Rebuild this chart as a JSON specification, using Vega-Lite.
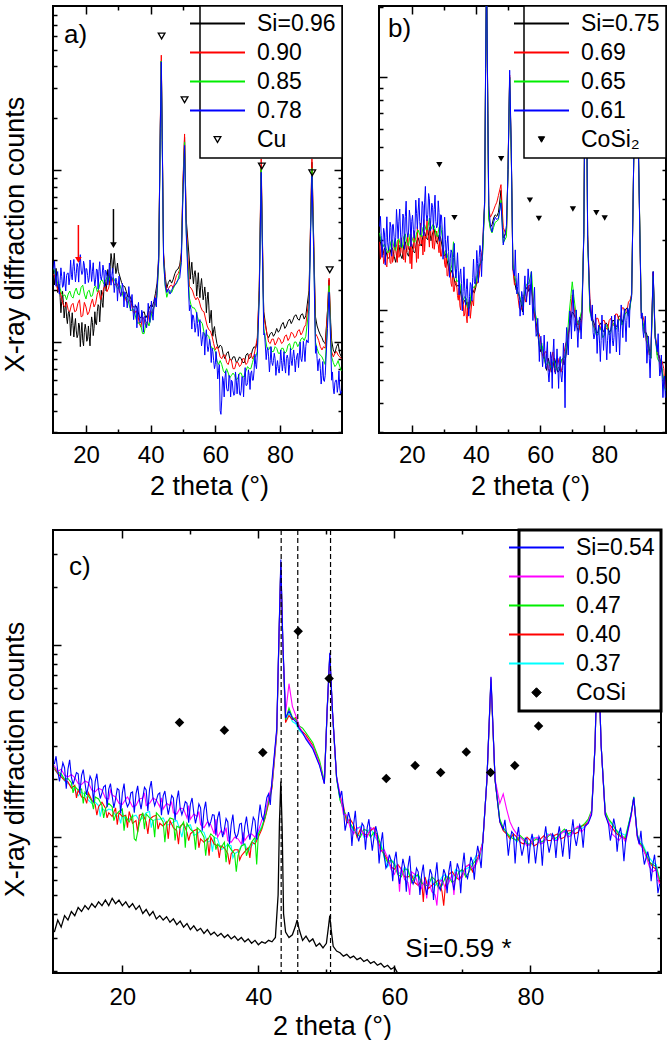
{
  "$schema": "https://vega.github.io/schema/vega-lite/v6.json",
  "padding": {"left": 0, "top": 4, "right": 4, "bottom": 0},
  "config": {
    "font": "Liberation Sans",
    "view": {"stroke": "black", "strokeWidth": 2},
    "axis": {
      "domain": false, "grid": false, "ticks": true, "tickColor": "black", "tickWidth": 1.5,
      "labelFont": "Liberation Sans", "labelFontSize": 24, "labelColor": "black",
      "labelFlush": false, "labelOverlap": false,
      "titleFont": "Liberation Sans", "titleFontSize": 27, "titleFontWeight": "normal", "titleColor": "black"
    },
    "legend": {
      "orient": "top-right", "offset": 0, "title": null,
      "labelFont": "Liberation Sans", "labelFontSize": 23, "labelColor": "black", "labelOffset": 28, "labelLimit": 0,
      "symbolType": "stroke", "symbolSize": 3025, "symbolStrokeWidth": 2,
      "padding": 6, "rowPadding": 5,
      "strokeColor": "black", "fillColor": "white"
    }
  },
  "datasets": {
    "panelA": [
      {"t":10,"s96":262,"s90":248,"s85":270,"s78":265},
      {"t":11,"s96":228,"s90":210,"s85":225,"s78":240},
      {"t":12,"s96":182,"s90":196,"s85":205,"s78":228},
      {"t":13,"s96":170,"s90":164,"s85":186,"s78":212},
      {"t":14,"s96":140,"s90":170,"s85":176,"s78":244},
      {"t":15,"s96":138,"s90":150,"s85":198,"s78":236},
      {"t":16,"s96":125,"s90":168,"s85":180,"s78":275},
      {"t":17,"s96":116,"s90":152,"s85":206,"s78":250},
      {"t":18,"s96":124,"s90":176,"s85":188,"s78":290},
      {"t":19,"s96":102,"s90":142,"s85":214,"s78":255},
      {"t":20,"s96":118,"s90":160,"s85":178,"s78":268},
      {"t":21,"s96":108,"s90":150,"s85":200,"s78":236},
      {"t":22,"s96":130,"s90":178,"s85":186,"s78":258},
      {"t":23,"s96":128,"s90":168,"s85":212,"s78":232},
      {"t":24,"s96":162,"s90":200,"s85":204,"s78":256},
      {"t":25,"s96":170,"s90":188,"s85":230,"s78":245},
      {"t":26,"s96":220,"s90":212,"s85":226,"s78":262},
      {"t":27,"s96":240,"s90":206,"s85":240,"s78":234},
      {"t":28,"s96":300,"s90":238,"s85":232,"s78":244},
      {"t":29,"s96":280,"s90":214,"s85":226,"s78":218},
      {"t":30,"s96":258,"s90":210,"s85":204,"s78":214},
      {"t":31,"s96":222,"s90":188,"s85":200,"s78":192},
      {"t":32,"s96":210,"s90":186,"s85":180,"s78":196},
      {"t":33,"s96":182,"s90":170,"s85":176,"s78":174},
      {"t":34,"s96":176,"s90":168,"s85":152,"s78":172},
      {"t":35,"s96":160,"s90":146,"s85":150,"s78":150},
      {"t":36,"s96":154,"s90":146,"s85":128,"s78":156},
      {"t":37,"s96":138,"s90":122,"s85":124,"s78":132},
      {"t":38,"s96":150,"s90":136,"s85":112,"s78":140},
      {"t":39,"s96":144,"s90":128,"s85":132,"s78":134},
      {"t":40,"s96":164,"s90":152,"s85":136,"s78":150},
      {"t":41,"s96":172,"s90":158,"s85":160,"s78":158},
      {"t":42,"s96":220,"s90":200,"s85":186,"s78":204},
      {"t":42.5,"s96":320,"s90":300,"s85":290,"s78":300},
      {"t":43,"s96":1800,"s90":1900,"s85":1700,"s78":1750},
      {"t":43.3,"s96":4300,"s90":4650,"s85":4300,"s78":4250},
      {"t":43.6,"s96":1500,"s90":1600,"s85":1450,"s78":1480},
      {"t":44,"s96":330,"s90":320,"s85":300,"s78":300},
      {"t":45,"s96":206,"s90":196,"s85":182,"s78":194},
      {"t":46,"s96":230,"s90":212,"s85":200,"s78":190},
      {"t":47,"s96":232,"s90":206,"s85":204,"s78":210},
      {"t":48,"s96":262,"s90":244,"s85":218,"s78":222},
      {"t":49,"s96":280,"s90":264,"s85":256,"s78":236},
      {"t":49.5,"s96":330,"s90":320,"s85":300,"s78":290},
      {"t":50,"s96":800,"s90":850,"s85":760,"s78":720},
      {"t":50.5,"s96":1550,"s90":1620,"s85":1450,"s78":1390},
      {"t":51,"s96":520,"s90":500,"s85":450,"s78":430},
      {"t":52,"s96":296,"s90":210,"s85":180,"s78":152},
      {"t":53,"s96":244,"s90":198,"s85":158,"s78":144},
      {"t":54,"s96":236,"s90":176,"s85":152,"s78":122},
      {"t":55,"s96":208,"s90":174,"s85":130,"s78":124},
      {"t":56,"s96":204,"s90":152,"s85":128,"s78":104},
      {"t":57,"s96":184,"s90":136,"s85":106,"s78":108},
      {"t":58,"s96":164,"s90":118,"s85":108,"s78":94},
      {"t":59,"s96":122,"s90":108,"s85":92,"s78":92},
      {"t":60,"s96":112,"s90":90,"s85":88,"s78":74},
      {"t":61,"s96":92,"s90":90,"s85":74,"s78":68},
      {"t":62,"s96":94,"s90":80,"s85":74,"s78":46},
      {"t":63,"s96":80,"s90":84,"s85":66,"s78":62},
      {"t":64,"s96":88,"s90":74,"s85":66,"s78":52},
      {"t":65,"s96":78,"s90":78,"s85":64,"s78":60},
      {"t":66,"s96":82,"s90":70,"s85":64,"s78":50},
      {"t":67,"s96":78,"s90":76,"s85":62,"s78":58},
      {"t":68,"s96":80,"s90":74,"s85":66,"s78":52},
      {"t":69,"s96":76,"s90":80,"s85":64,"s78":62},
      {"t":70,"s96":86,"s90":76,"s85":72,"s78":58},
      {"t":71,"s96":82,"s90":86,"s85":70,"s78":66},
      {"t":72,"s96":94,"s90":84,"s85":82,"s78":68},
      {"t":73,"s96":102,"s90":106,"s85":88,"s78":84},
      {"t":73.6,"s96":200,"s90":210,"s85":190,"s78":180},
      {"t":74.2,"s96":1060,"s90":1160,"s85":1020,"s78":970},
      {"t":74.8,"s96":220,"s90":230,"s85":200,"s78":190},
      {"t":75,"s96":150,"s90":140,"s85":120,"s78":110},
      {"t":76,"s96":110,"s90":112,"s85":92,"s78":90},
      {"t":77,"s96":112,"s90":98,"s85":94,"s78":78},
      {"t":78,"s96":108,"s90":104,"s85":88,"s78":78},
      {"t":79,"s96":120,"s90":100,"s85":92,"s78":72},
      {"t":80,"s96":118,"s90":104,"s85":86,"s78":74},
      {"t":81,"s96":130,"s90":100,"s85":92,"s78":76},
      {"t":82,"s96":124,"s90":110,"s85":88,"s78":80},
      {"t":83,"s96":136,"s90":106,"s85":98,"s78":74},
      {"t":84,"s96":134,"s90":112,"s85":92,"s78":82},
      {"t":85,"s96":144,"s90":108,"s85":100,"s78":78},
      {"t":86,"s96":134,"s90":118,"s85":98,"s78":84},
      {"t":87,"s96":146,"s90":114,"s85":106,"s78":84},
      {"t":88,"s96":142,"s90":126,"s85":108,"s78":94},
      {"t":89,"s96":200,"s90":180,"s85":160,"s78":150},
      {"t":89.5,"s96":500,"s90":520,"s85":460,"s78":440},
      {"t":89.9,"s96":1110,"s90":1160,"s85":1020,"s78":930},
      {"t":90.4,"s96":420,"s90":430,"s85":380,"s78":360},
      {"t":91,"s96":140,"s90":112,"s85":100,"s78":86},
      {"t":92,"s96":116,"s90":102,"s85":86,"s78":78},
      {"t":93,"s96":106,"s90":90,"s85":82,"s78":64},
      {"t":94,"s96":98,"s90":92,"s85":74,"s78":64},
      {"t":94.7,"s96":150,"s90":150,"s85":130,"s78":120},
      {"t":95.2,"s96":230,"s90":235,"s85":213,"s78":195},
      {"t":95.7,"s96":130,"s90":120,"s85":110,"s78":100},
      {"t":96,"s96":102,"s90":88,"s85":82,"s78":60},
      {"t":97,"s96":86,"s90":86,"s85":72,"s78":58},
      {"t":98,"s96":98,"s90":84,"s85":78,"s78":56},
      {"t":99,"s96":82,"s90":80,"s85":68,"s78":52},
      {"t":10.5,"s96":236,"s90":238,"s85":248,"s78":252},
      {"t":11.5,"s96":206,"s90":196,"s85":218,"s78":220},
      {"t":12.5,"s96":172,"s90":178,"s85":190,"s78":240},
      {"t":13.5,"s96":156,"s90":160,"s85":188,"s78":220},
      {"t":14.5,"s96":146,"s90":154,"s85":190,"s78":252},
      {"t":15.5,"s96":128,"s90":164,"s85":184,"s78":246},
      {"t":16.5,"s96":124,"s90":150,"s85":196,"s78":258},
      {"t":17.5,"s96":110,"s90":168,"s85":190,"s78":272},
      {"t":18.5,"s96":112,"s90":140,"s85":208,"s78":262},
      {"t":19.5,"s96":114,"s90":170,"s85":190,"s78":280},
      {"t":20.5,"s96":104,"s90":144,"s85":196,"s78":244},
      {"t":21.5,"s96":122,"s90":166,"s85":184,"s78":262},
      {"t":22.5,"s96":120,"s90":160,"s85":206,"s78":236},
      {"t":23.5,"s96":150,"s90":190,"s85":196,"s78":262},
      {"t":24.5,"s96":160,"s90":176,"s85":226,"s78":240},
      {"t":25.5,"s96":196,"s90":206,"s85":218,"s78":260},
      {"t":26.5,"s96":226,"s90":196,"s85":238,"s78":240},
      {"t":27.5,"s96":276,"s90":228,"s85":226,"s78":250},
      {"t":28.5,"s96":284,"s90":220,"s85":236,"s78":226},
      {"t":29.5,"s96":262,"s90":220,"s85":208,"s78":224},
      {"t":30.5,"s96":240,"s90":192,"s85":214,"s78":196},
      {"t":31.5,"s96":212,"s90":196,"s85":184,"s78":204},
      {"t":32.5,"s96":196,"s90":172,"s85":182,"s78":180},
      {"t":33.5,"s96":186,"s90":176,"s85":160,"s78":184},
      {"t":34.5,"s96":160,"s90":152,"s85":156,"s78":158},
      {"t":35.5,"s96":162,"s90":152,"s85":136,"s78":160},
      {"t":36.5,"s96":140,"s90":128,"s85":130,"s78":138},
      {"t":37.5,"s96":148,"s90":140,"s85":112,"s78":146},
      {"t":38.5,"s96":138,"s90":122,"s85":128,"s78":130},
      {"t":39.5,"s96":156,"s90":148,"s85":124,"s78":148},
      {"t":40.5,"s96":160,"s90":146,"s85":152,"s78":146},
      {"t":41.5,"s96":192,"s90":176,"s85":164,"s78":180},
      {"t":44.5,"s96":240,"s90":230,"s85":210,"s78":215},
      {"t":45.5,"s96":222,"s90":204,"s85":196,"s78":204},
      {"t":46.5,"s96":220,"s90":214,"s85":194,"s78":200},
      {"t":47.5,"s96":250,"s90":226,"s85":214,"s78":214},
      {"t":48.5,"s96":266,"s90":250,"s85":232,"s78":230},
      {"t":52.5,"s96":262,"s90":206,"s85":164,"s78":154},
      {"t":53.5,"s96":248,"s90":184,"s85":158,"s78":130},
      {"t":54.5,"s96":216,"s90":182,"s85":140,"s78":128},
      {"t":55.5,"s96":214,"s90":160,"s85":132,"s78":110},
      {"t":56.5,"s96":190,"s90":150,"s85":114,"s78":112},
      {"t":57.5,"s96":176,"s90":124,"s85":110,"s78":96},
      {"t":58.5,"s96":140,"s90":116,"s85":96,"s78":96},
      {"t":59.5,"s96":118,"s90":98,"s85":92,"s78":78},
      {"t":60.5,"s96":98,"s90":94,"s85":78,"s78":76},
      {"t":61.5,"s96":96,"s90":82,"s85":78,"s78":40},
      {"t":62.5,"s96":84,"s90":84,"s85":68,"s78":60},
      {"t":63.5,"s96":86,"s90":76,"s85":70,"s78":54},
      {"t":64.5,"s96":80,"s90":80,"s85":62,"s78":62},
      {"t":65.5,"s96":82,"s90":70,"s85":66,"s78":52},
      {"t":66.5,"s96":76,"s90":76,"s85":60,"s78":60},
      {"t":67.5,"s96":82,"s90":72,"s85":66,"s78":50},
      {"t":68.5,"s96":76,"s90":80,"s85":62,"s78":62},
      {"t":69.5,"s96":84,"s90":74,"s85":68,"s78":56},
      {"t":70.5,"s96":80,"s90":84,"s85":70,"s78":64},
      {"t":71.5,"s96":90,"s90":80,"s85":76,"s78":60},
      {"t":72.5,"s96":92,"s90":94,"s85":82,"s78":74},
      {"t":76.5,"s96":106,"s90":100,"s85":90,"s78":82},
      {"t":77.5,"s96":114,"s90":104,"s85":88,"s78":76},
      {"t":78.5,"s96":112,"s90":96,"s85":94,"s78":80},
      {"t":79.5,"s96":114,"s90":106,"s85":86,"s78":70},
      {"t":80.5,"s96":126,"s90":98,"s85":92,"s78":78},
      {"t":81.5,"s96":120,"s90":108,"s85":86,"s78":72},
      {"t":82.5,"s96":132,"s90":102,"s85":96,"s78":80},
      {"t":83.5,"s96":128,"s90":114,"s85":90,"s78":78},
      {"t":84.5,"s96":142,"s90":106,"s85":100,"s78":80},
      {"t":85.5,"s96":136,"s90":116,"s85":94,"s78":86},
      {"t":86.5,"s96":144,"s90":110,"s85":104,"s78":80},
      {"t":87.5,"s96":136,"s90":122,"s85":102,"s78":90},
      {"t":91.5,"s96":124,"s90":108,"s85":92,"s78":80},
      {"t":92.5,"s96":110,"s90":94,"s85":84,"s78":70},
      {"t":93.5,"s96":100,"s90":94,"s85":78,"s78":60},
      {"t":96.5,"s96":90,"s90":82,"s85":76,"s78":54},
      {"t":97.5,"s96":94,"s90":88,"s85":74,"s78":60},
      {"t":98.5,"s96":86,"s90":82,"s85":72,"s78":54},
      {"t":10.25,"s78":296},{"t":10.75,"s78":211},{"t":11.25,"s78":257},{"t":11.75,"s78":190},
      {"t":12.25,"s78":270},{"t":12.75,"s78":208},{"t":13.25,"s78":256},{"t":13.75,"s78":198},
      {"t":14.25,"s78":251},{"t":14.75,"s78":215},{"t":15.25,"s78":299},{"t":15.75,"s78":230},
      {"t":16.25,"s78":302},{"t":16.75,"s78":224},{"t":17.25,"s78":286},{"t":17.75,"s78":223},
      {"t":18.25,"s78":322},{"t":18.75,"s78":247},{"t":19.25,"s78":295},{"t":19.75,"s78":218},
      {"t":20.25,"s78":266},{"t":20.75,"s78":222},{"t":21.25,"s78":300},{"t":21.75,"s78":225},
      {"t":22.25,"s78":289},{"t":22.75,"s78":212},{"t":23.25,"s78":266},{"t":23.75,"s78":203},
      {"t":24.25,"s78":293},{"t":24.75,"s78":229},{"t":25.25,"s78":280},{"t":25.75,"s78":210},
      {"t":26.25,"s78":258},{"t":26.75,"s78":215},{"t":27.25,"s78":288},{"t":27.75,"s78":214},
      {"t":28.25,"s78":269},{"t":28.75,"s78":194},{"t":29.25,"s78":235},{"t":29.75,"s78":173},
      {"t":30.25,"s78":242},{"t":30.75,"s78":184},{"t":31.25,"s78":219},{"t":31.75,"s78":160},
      {"t":32.25,"s78":193},{"t":32.75,"s78":158},{"t":33.25,"s78":210},{"t":33.75,"s78":152},
      {"t":34.25,"s78":189},{"t":34.75,"s78":135},{"t":35.25,"s78":165},{"t":35.75,"s78":121},
      {"t":36.25,"s78":170},{"t":36.75,"s78":129},{"t":37.25,"s78":153},{"t":37.75,"s78":114},
      {"t":38.25,"s78":141},{"t":38.75,"s78":121},{"t":39.25,"s78":168},{"t":39.75,"s78":130},
      {"t":40.25,"s78":173},{"t":40.75,"s78":134},{"t":41.25,"s78":181},{"t":41.75,"s78":160},
      {"t":52.25,"s78":164},{"t":52.75,"s78":119},{"t":53.25,"s78":142},{"t":53.75,"s78":114},
      {"t":54.25,"s78":149},{"t":54.75,"s78":108},{"t":55.25,"s78":135},{"t":55.75,"s78":95},
      {"t":56.25,"s78":114},{"t":56.75,"s78":84},{"t":57.25,"s78":118},{"t":57.75,"s78":88},
      {"t":58.25,"s78":104},{"t":58.75,"s78":76},{"t":59.25,"s78":88},{"t":59.75,"s78":70},
      {"t":60.25,"s78":88},{"t":60.75,"s78":61},{"t":61.25,"s78":74},{"t":61.75,"s78":38},
      {"t":62.25,"s78":63},{"t":62.75,"s78":48},{"t":63.25,"s78":68},{"t":63.75,"s78":52},
      {"t":64.25,"s78":64},{"t":64.75,"s78":48},{"t":65.25,"s78":59},{"t":65.75,"s78":49},
      {"t":66.25,"s78":67},{"t":66.75,"s78":50},{"t":67.25,"s78":65},{"t":67.75,"s78":49},
      {"t":68.25,"s78":63},{"t":68.75,"s78":48},{"t":69.25,"s78":71},{"t":69.75,"s78":56},
      {"t":70.25,"s78":69},{"t":70.75,"s78":53},{"t":71.25,"s78":68},{"t":71.75,"s78":60},
      {"t":72.25,"s78":85},{"t":72.75,"s78":70},
      {"t":75.25,"s78":112},{"t":75.75,"s78":79},{"t":76.25,"s78":93},{"t":76.75,"s78":67},
      {"t":77.25,"s78":94},{"t":77.75,"s78":73},{"t":78.25,"s78":86},{"t":78.75,"s78":64},
      {"t":79.25,"s78":78},{"t":79.75,"s78":66},{"t":80.25,"s78":90},{"t":80.75,"s78":68},
      {"t":81.25,"s78":88},{"t":81.75,"s78":66},{"t":82.25,"s78":84},{"t":82.75,"s78":64},
      {"t":83.25,"s78":92},{"t":83.75,"s78":73},{"t":84.25,"s78":90},{"t":84.75,"s78":67},
      {"t":85.25,"s78":83},{"t":85.75,"s78":71},{"t":86.25,"s78":100},{"t":86.75,"s78":77},
      {"t":87.25,"s78":101},{"t":87.75,"s78":77},{"t":88.25,"s78":103},{"t":88.75,"s78":99},
      {"t":91.25,"s78":95},{"t":91.75,"s78":68},{"t":92.25,"s78":80},{"t":92.75,"s78":57},
      {"t":93.25,"s78":77},{"t":93.75,"s78":59},{"t":96.25,"s78":67},{"t":96.75,"s78":50},
      {"t":97.25,"s78":60},{"t":97.75,"s78":51},{"t":98.25,"s78":68},{"t":98.75,"s78":50},
      {"t":10.25,"s96":215},{"t":10.75,"s96":268},{"t":11.25,"s96":194},{"t":11.75,"s96":216},
      {"t":12.25,"s96":148},{"t":12.75,"s96":197},{"t":13.25,"s96":138},{"t":13.75,"s96":171},
      {"t":14.25,"s96":128},{"t":14.75,"s96":151},{"t":15.25,"s96":109},{"t":15.75,"s96":148},
      {"t":16.25,"s96":107},{"t":16.75,"s96":137},{"t":17.25,"s96":106},{"t":17.75,"s96":129},
      {"t":18.25,"s96":94},{"t":18.75,"s96":130},{"t":19.25,"s96":95},{"t":19.75,"s96":127},
      {"t":20.25,"s96":101},{"t":20.75,"s96":124},{"t":21.25,"s96":95},{"t":21.75,"s96":140},
      {"t":22.25,"s96":109},{"t":22.75,"s96":150},{"t":23.25,"s96":126},{"t":23.75,"s96":165},
      {"t":24.25,"s96":131},{"t":24.75,"s96":200},{"t":25.25,"s96":159},{"t":25.75,"s96":228},
      {"t":26.25,"s96":198},{"t":26.75,"s96":264},{"t":27.25,"s96":215},{"t":27.75,"s96":327},
      {"t":28.25,"s96":251},{"t":28.75,"s96":328},{"t":29.25,"s96":250},{"t":29.75,"s96":288},
      {"t":52.25,"s96":232},{"t":52.75,"s96":291},{"t":53.25,"s96":218},{"t":53.75,"s96":260},
      {"t":54.25,"s96":185},{"t":54.75,"s96":253},{"t":55.25,"s96":181},{"t":55.75,"s96":234},
      {"t":56.25,"s96":176},{"t":56.75,"s96":209},{"t":57.25,"s96":148},{"t":57.75,"s96":195},
      {"t":58.25,"s96":129},{"t":58.75,"s96":153},{"t":59.25,"s96":108},{"t":59.75,"s96":123}
    ],
    "panelB": [
      {"t":10,"s75":205,"s69":196,"s65":214,"s61":228},
      {"t":11,"s75":172,"s69":180,"s65":186,"s61":192},
      {"t":12,"s75":178,"s69":156,"s65":184,"s61":204},
      {"t":13,"s75":168,"s69":176,"s65":178,"s61":196},
      {"t":14,"s75":184,"s69":160,"s65":200,"s61":232},
      {"t":15,"s75":160,"s69":180,"s65":180,"s61":204},
      {"t":16,"s75":190,"s69":168,"s65":202,"s61":240},
      {"t":17,"s75":166,"s69":176,"s65":184,"s61":210},
      {"t":18,"s75":196,"s69":160,"s65":212,"s61":252},
      {"t":19,"s75":170,"s69":182,"s65":188,"s61":214},
      {"t":20,"s75":192,"s69":150,"s65":206,"s61":240},
      {"t":21,"s75":176,"s69":184,"s65":196,"s61":222},
      {"t":22,"s75":204,"s69":166,"s65":220,"s61":266},
      {"t":23,"s75":188,"s69":192,"s65":206,"s61":236},
      {"t":24,"s75":216,"s69":178,"s65":232,"s61":288},
      {"t":25,"s75":200,"s69":210,"s65":224,"s61":256},
      {"t":25.5,"s75":226,"s69":186,"s65":248,"s61":300},
      {"t":26,"s75":198,"s69":208,"s65":222,"s61":250},
      {"t":27,"s75":222,"s69":182,"s65":230,"s61":270},
      {"t":28,"s75":192,"s69":196,"s65":206,"s61":230},
      {"t":29,"s75":204,"s69":170,"s65":230,"s61":256},
      {"t":30,"s75":170,"s69":178,"s65":172,"s61":190},
      {"t":31,"s75":164,"s69":140,"s65":174,"s61":192},
      {"t":32,"s75":142,"s69":146,"s65":146,"s61":166},
      {"t":33,"s75":140,"s69":120,"s65":196,"s61":168},
      {"t":34,"s75":126,"s69":128,"s65":132,"s61":150},
      {"t":35,"s75":124,"s69":104,"s65":130,"s61":142},
      {"t":36,"s75":106,"s69":110,"s65":110,"s61":120},
      {"t":37,"s75":108,"s69":94,"s65":112,"s61":122},
      {"t":38,"s75":102,"s69":110,"s65":104,"s61":114},
      {"t":39,"s75":122,"s69":108,"s65":126,"s61":138},
      {"t":40,"s75":126,"s69":134,"s65":130,"s61":140},
      {"t":41,"s75":154,"s69":140,"s65":156,"s61":168},
      {"t":42,"s75":166,"s69":182,"s65":164,"s61":178},
      {"t":42.7,"s75":280,"s69":290,"s65":285,"s61":292},
      {"t":43,"s75":1000,"s69":1050,"s65":1080,"s61":1090},
      {"t":43.3,"s75":3000,"s69":3000,"s65":3000,"s61":3000},
      {"t":43.7,"s75":700,"s69":720,"s65":690,"s61":700},
      {"t":44,"s75":250,"s69":270,"s65":245,"s61":280},
      {"t":45,"s75":232,"s69":258,"s65":214,"s61":216},
      {"t":46,"s75":256,"s69":280,"s65":238,"s61":250},
      {"t":47,"s75":262,"s69":310,"s65":244,"s61":248},
      {"t":47.8,"s75":326,"s69":345,"s65":296,"s61":288},
      {"t":48.5,"s75":204,"s69":226,"s65":194,"s61":190},
      {"t":49.5,"s75":216,"s69":208,"s65":206,"s61":230},
      {"t":50,"s75":400,"s69":420,"s65":410,"s61":400},
      {"t":50.5,"s75":1000,"s69":1020,"s65":990,"s61":1070},
      {"t":51,"s75":480,"s69":490,"s65":470,"s61":500},
      {"t":51.5,"s75":156,"s69":150,"s65":158,"s61":150},
      {"t":52.5,"s75":122,"s69":130,"s65":130,"s61":138},
      {"t":53.5,"s75":114,"s69":102,"s65":116,"s61":110},
      {"t":54.5,"s75":98,"s69":104,"s65":104,"s61":114},
      {"t":55.5,"s75":122,"s69":108,"s65":126,"s61":116},
      {"t":56.5,"s75":120,"s69":128,"s65":130,"s61":134},
      {"t":57.3,"s75":130,"s69":124,"s65":146,"s61":128},
      {"t":58,"s75":98,"s69":102,"s65":104,"s61":106},
      {"t":59,"s75":84,"s69":80,"s65":90,"s61":79},
      {"t":60,"s75":66,"s69":76,"s65":68,"s61":76},
      {"t":61,"s75":66,"s69":62,"s65":64,"s61":63},
      {"t":62,"s75":55,"s69":66,"s65":58,"s61":65},
      {"t":63,"s75":58,"s69":54,"s65":58,"s61":56},
      {"t":64,"s75":57,"s69":66,"s65":60,"s61":65},
      {"t":65,"s75":58,"s69":56,"s65":55,"s61":57},
      {"t":66,"s75":55,"s69":58,"s65":57,"s61":61},
      {"t":67,"s75":62,"s69":58,"s65":62,"s61":55},
      {"t":68,"s75":63,"s69":72,"s65":66,"s61":69},
      {"t":69,"s75":82,"s69":82,"s65":96,"s61":80},
      {"t":70,"s75":98,"s69":116,"s65":132,"s61":106},
      {"t":71,"s75":92,"s69":92,"s65":100,"s61":86},
      {"t":72,"s75":80,"s69":90,"s65":86,"s61":84},
      {"t":73,"s75":98,"s69":92,"s65":100,"s61":90},
      {"t":73.6,"s75":210,"s69":220,"s65":215,"s61":210},
      {"t":74.2,"s75":2600,"s69":2600,"s65":2600,"s61":2600},
      {"t":74.8,"s75":210,"s69":210,"s65":200,"s61":200},
      {"t":75.5,"s75":100,"s69":112,"s65":98,"s61":106},
      {"t":76.5,"s75":90,"s69":86,"s65":86,"s61":80},
      {"t":77.5,"s75":80,"s69":92,"s65":78,"s61":82},
      {"t":78.5,"s75":86,"s69":86,"s65":84,"s61":72},
      {"t":79.5,"s75":82,"s69":90,"s65":76,"s61":80},
      {"t":80.5,"s75":88,"s69":84,"s65":86,"s61":72},
      {"t":81.5,"s75":80,"s69":90,"s65":78,"s61":80},
      {"t":82.5,"s75":90,"s69":86,"s65":86,"s61":74},
      {"t":83.5,"s75":84,"s69":96,"s65":82,"s61":82},
      {"t":84.5,"s75":94,"s69":90,"s65":90,"s61":80},
      {"t":85.5,"s75":88,"s69":102,"s65":86,"s61":88},
      {"t":86.5,"s75":100,"s69":96,"s65":96,"s61":88},
      {"t":87.5,"s75":96,"s69":108,"s65":94,"s61":100},
      {"t":88.5,"s75":118,"s69":116,"s65":116,"s61":114},
      {"t":89.3,"s75":600,"s69":600,"s65":600,"s61":600},
      {"t":89.9,"s75":2500,"s69":2500,"s65":2500,"s61":2500},
      {"t":90.5,"s75":600,"s69":600,"s65":600,"s61":600},
      {"t":91.5,"s75":100,"s69":94,"s65":98,"s61":92},
      {"t":92.5,"s75":80,"s69":88,"s65":80,"s61":86},
      {"t":93.5,"s75":76,"s69":70,"s65":72,"s61":68},
      {"t":94.5,"s75":62,"s69":68,"s65":62,"s61":66},
      {"t":95.2,"s75":146,"s69":144,"s65":140,"s61":146},
      {"t":95.8,"s75":80,"s69":76,"s65":78,"s61":76},
      {"t":96.5,"s75":64,"s69":70,"s65":62,"s61":66},
      {"t":97.5,"s75":60,"s69":56,"s65":60,"s61":54},
      {"t":98.5,"s75":50,"s69":56,"s65":48,"s61":50},
      {"t":99,"s75":47,"s69":46,"s65":45,"s61":42},
      {"t":10.5,"s75":186,"s69":186,"s65":196,"s61":208},
      {"t":11.5,"s75":184,"s69":162,"s65":192,"s61":214},
      {"t":12.5,"s75":166,"s69":174,"s65":176,"s61":194},
      {"t":13.5,"s75":182,"s69":158,"s65":196,"s61":226},
      {"t":14.5,"s75":170,"s69":178,"s65":184,"s61":206},
      {"t":15.5,"s75":180,"s69":160,"s65":198,"s61":236},
      {"t":16.5,"s75":172,"s69":182,"s65":188,"s61":214},
      {"t":17.5,"s75":188,"s69":164,"s65":206,"s61":248},
      {"t":18.5,"s75":176,"s69":178,"s65":194,"s61":218},
      {"t":19.5,"s75":188,"s69":158,"s65":212,"s61":250},
      {"t":20.5,"s75":178,"s69":182,"s65":196,"s61":222},
      {"t":21.5,"s75":196,"s69":160,"s65":214,"s61":260},
      {"t":22.5,"s75":192,"s69":188,"s65":210,"s61":240},
      {"t":23.5,"s75":208,"s69":172,"s65":226,"s61":280},
      {"t":24.5,"s75":204,"s69":204,"s65":220,"s61":258},
      {"t":26.5,"s75":214,"s69":184,"s65":232,"s61":276},
      {"t":27.5,"s75":200,"s69":202,"s65":214,"s61":240},
      {"t":28.5,"s75":210,"s69":176,"s65":226,"s61":262},
      {"t":29.5,"s75":186,"s69":184,"s65":206,"s61":222},
      {"t":30.5,"s75":174,"s69":152,"s65":180,"s61":200},
      {"t":31.5,"s75":150,"s69":156,"s65":160,"s61":178},
      {"t":32.5,"s75":148,"s69":126,"s65":156,"s61":176},
      {"t":33.5,"s75":130,"s69":132,"s65":150,"s61":156},
      {"t":34.5,"s75":128,"s69":110,"s65":134,"s61":148},
      {"t":35.5,"s75":112,"s69":116,"s65":118,"s61":130},
      {"t":36.5,"s75":110,"s69":96,"s65":114,"s61":124},
      {"t":37.5,"s75":100,"s69":108,"s65":102,"s61":112},
      {"t":38.5,"s75":112,"s69":100,"s65":118,"s61":128},
      {"t":39.5,"s75":118,"s69":126,"s65":124,"s61":132},
      {"t":40.5,"s75":142,"s69":130,"s65":144,"s61":158},
      {"t":41.5,"s75":158,"s69":164,"s65":160,"s61":176},
      {"t":44.5,"s75":226,"s69":250,"s65":222,"s61":230},
      {"t":45.5,"s75":248,"s69":268,"s65":226,"s61":238},
      {"t":46.5,"s75":252,"s69":290,"s65":240,"s61":244},
      {"t":52,"s75":134,"s69":128,"s65":142,"s61":140},
      {"t":53,"s75":120,"s69":116,"s65":118,"s61":126},
      {"t":54,"s75":108,"s69":100,"s65":110,"s61":104},
      {"t":55,"s75":112,"s69":116,"s65":116,"s61":122},
      {"t":56,"s75":126,"s69":118,"s65":130,"s61":124},
      {"t":58.5,"s75":92,"s69":90,"s65":96,"s61":90},
      {"t":59.5,"s75":74,"s69":80,"s65":76,"s61":76},
      {"t":60.5,"s75":70,"s69":66,"s65":72,"s61":66},
      {"t":61.5,"s75":60,"s69":66,"s65":60,"s61":64},
      {"t":62.5,"s75":62,"s69":56,"s65":60,"s61":54},
      {"t":63.5,"s75":54,"s69":62,"s65":56,"s61":62},
      {"t":64.5,"s75":62,"s69":54,"s65":60,"s61":56},
      {"t":65.5,"s75":54,"s69":62,"s65":56,"s61":58},
      {"t":66.5,"s75":60,"s69":54,"s65":60,"s61":52},
      {"t":67.5,"s75":58,"s69":66,"s65":62,"s61":62},
      {"t":68.5,"s75":72,"s69":74,"s65":78,"s61":72},
      {"t":69.5,"s75":90,"s69":96,"s65":112,"s61":92},
      {"t":70.5,"s75":96,"s69":104,"s65":114,"s61":94},
      {"t":71.5,"s75":84,"s69":86,"s65":90,"s61":82},
      {"t":72.5,"s75":90,"s69":82,"s65":94,"s61":88},
      {"t":76,"s75":94,"s69":96,"s65":92,"s61":90},
      {"t":77,"s75":86,"s69":84,"s65":82,"s61":78},
      {"t":78,"s75":80,"s69":92,"s65":78,"s61":80},
      {"t":79,"s75":88,"s69":82,"s65":82,"s61":74},
      {"t":80,"s75":80,"s69":90,"s65":78,"s61":80},
      {"t":81,"s75":86,"s69":82,"s65":84,"s61":74},
      {"t":82,"s75":82,"s69":92,"s65":80,"s61":80},
      {"t":83,"s75":90,"s69":86,"s65":88,"s61":76},
      {"t":84,"s75":86,"s69":96,"s65":84,"s61":84},
      {"t":85,"s75":94,"s69":92,"s65":92,"s61":82},
      {"t":86,"s75":92,"s69":102,"s65":90,"s61":92},
      {"t":87,"s75":102,"s69":98,"s65":98,"s61":90},
      {"t":88,"s75":104,"s69":110,"s65":102,"s61":106},
      {"t":92,"s75":88,"s69":94,"s65":88,"s61":82},
      {"t":93,"s75":80,"s69":74,"s65":78,"s61":76},
      {"t":94,"s75":68,"s69":64,"s65":66,"s61":62},
      {"t":97,"s75":64,"s69":62,"s65":60,"s61":62},
      {"t":98,"s75":54,"s69":60,"s65":56,"s61":52},
      {"t":10.25,"s61":252},{"t":10.75,"s61":168},{"t":11.25,"s61":224},{"t":11.75,"s61":156},
      {"t":12.25,"s61":251},{"t":12.75,"s61":180},{"t":13.25,"s61":238},{"t":13.75,"s61":170},
      {"t":14.25,"s61":233},{"t":14.75,"s61":186},{"t":15.25,"s61":270},{"t":15.75,"s61":202},
      {"t":16.25,"s61":271},{"t":16.75,"s61":186},{"t":17.25,"s61":258},{"t":17.75,"s61":182},
      {"t":18.25,"s61":293},{"t":18.75,"s61":205},{"t":19.25,"s61":268},{"t":19.75,"s61":187},
      {"t":20.25,"s61":255},{"t":20.75,"s61":203},{"t":21.25,"s61":296},{"t":21.75,"s61":223},
      {"t":22.25,"s61":302},{"t":22.75,"s61":210},{"t":23.25,"s61":292},{"t":23.75,"s61":208},
      {"t":24.25,"s61":339},{"t":24.75,"s61":241},{"t":25.25,"s61":316},{"t":25.75,"s61":218},
      {"t":26.25,"s61":287},{"t":26.75,"s61":221},{"t":27.25,"s61":311},{"t":27.75,"s61":225},
      {"t":28.25,"s61":294},{"t":28.75,"s61":197},{"t":29.25,"s61":255},{"t":29.75,"s61":165},
      {"t":30.25,"s61":250},{"t":30.75,"s61":167},{"t":31.25,"s61":208},{"t":31.75,"s61":138},
      {"t":32.25,"s61":181},{"t":32.75,"s61":138},{"t":33.25,"s61":193},{"t":33.75,"s61":137},
      {"t":34.25,"s61":176},{"t":34.75,"s61":116},{"t":35.25,"s61":150},{"t":35.75,"s61":99},
      {"t":36.25,"s61":153},{"t":36.75,"s61":105},{"t":37.25,"s61":136},{"t":37.75,"s61":94},
      {"t":38.25,"s61":131},{"t":38.75,"s61":109},{"t":39.25,"s61":165},{"t":39.75,"s61":129},
      {"t":40.25,"s61":180},{"t":40.75,"s61":131},{"t":41.25,"s61":189},{"t":41.75,"s61":139},
      {"t":52.25,"s61":181},{"t":52.75,"s61":117},{"t":53.25,"s61":144},{"t":53.75,"s61":94},
      {"t":54.25,"s61":120},{"t":54.75,"s61":95},{"t":55.25,"s61":140},{"t":55.75,"s61":108},
      {"t":56.25,"s61":150},{"t":56.75,"s61":105},{"t":57.25,"s61":146},{"t":57.75,"s61":90},
      {"t":58.25,"s61":125},{"t":58.75,"s61":77},{"t":59.25,"s61":92},{"t":59.75,"s61":60},
      {"t":60.25,"s61":77},{"t":60.75,"s61":57},{"t":61.25,"s61":78},{"t":61.75,"s61":56},
      {"t":62.25,"s61":73},{"t":62.75,"s61":49},{"t":63.25,"s61":66},{"t":63.75,"s61":46},
      {"t":64.25,"s61":75},{"t":64.75,"s61":53},{"t":65.25,"s61":68},{"t":65.75,"s61":46},
      {"t":66.25,"s61":63},{"t":66.75,"s61":49},{"t":67.25,"s61":72},{"t":67.75,"s61":38},
      {"t":68.25,"s61":84},{"t":68.75,"s61":64},{"t":69.25,"s61":99},{"t":69.75,"s61":75},
      {"t":70.25,"s61":122},{"t":70.75,"s61":81},{"t":71.25,"s61":100},{"t":71.75,"s61":69},
      {"t":72.25,"s61":93},{"t":72.75,"s61":75},
      {"t":76.25,"s61":105},{"t":76.75,"s61":75},{"t":77.25,"s61":96},{"t":77.75,"s61":65},
      {"t":78.25,"s61":86},{"t":78.75,"s61":60},{"t":79.25,"s61":95},{"t":79.75,"s61":67},
      {"t":80.25,"s61":87},{"t":80.75,"s61":61},{"t":81.25,"s61":83},{"t":81.75,"s61":65},
      {"t":82.25,"s61":94},{"t":82.75,"s61":70},{"t":83.25,"s61":95},{"t":83.75,"s61":66},
      {"t":84.25,"s61":91},{"t":84.75,"s61":64},{"t":85.25,"s61":105},{"t":85.75,"s61":76},
      {"t":86.25,"s61":101},{"t":86.75,"s61":73},{"t":87.25,"s61":102},{"t":87.75,"s61":84},
      {"t":91.75,"s61":97},{"t":92.25,"s61":76},{"t":92.75,"s61":94},{"t":93.25,"s61":59},
      {"t":93.75,"s61":77},{"t":94.25,"s61":51},{"t":96.75,"s61":79},{"t":97.25,"s61":52},
      {"t":97.75,"s61":64},{"t":98.25,"s61":42},{"t":98.75,"s61":52},
      {"t":10.25,"s69":165},{"t":10.75,"s69":190},{"t":11.25,"s69":158},{"t":11.75,"s69":180},
      {"t":12.25,"s69":153},{"t":12.75,"s69":182},{"t":13.25,"s69":160},{"t":13.75,"s69":192},
      {"t":14.25,"s69":165},{"t":14.75,"s69":196},{"t":15.25,"s69":170},{"t":15.75,"s69":200},
      {"t":16.25,"s69":172},{"t":16.75,"s69":204},{"t":17.25,"s69":176},{"t":17.75,"s69":210},
      {"t":18.25,"s69":180},{"t":18.75,"s69":212},{"t":19.25,"s69":180},{"t":19.75,"s69":212},
      {"t":20.25,"s69":180},{"t":20.75,"s69":218},{"t":21.25,"s69":186},{"t":21.75,"s69":228},
      {"t":22.25,"s69":191},{"t":22.75,"s69":236},{"t":23.25,"s69":200},{"t":23.75,"s69":244},
      {"t":24.25,"s69":207},{"t":24.75,"s69":244},{"t":25.25,"s69":206},{"t":25.75,"s69":240},
      {"t":26.25,"s69":205},{"t":26.75,"s69":232},{"t":27.25,"s69":195},{"t":27.75,"s69":218},
      {"t":28.25,"s69":190},{"t":28.75,"s69":205},{"t":29.25,"s69":170},{"t":29.75,"s69":190},
      {"t":30.25,"s69":157},{"t":30.75,"s69":176},{"t":31.25,"s69":140},{"t":31.75,"s69":158},
      {"t":32.25,"s69":130},{"t":32.75,"s69":146},{"t":33.25,"s69":120},{"t":33.75,"s69":133},
      {"t":34.25,"s69":115},{"t":34.75,"s69":124},{"t":35.25,"s69":100},{"t":35.75,"s69":112},
      {"t":36.25,"s69":94},{"t":36.75,"s69":106},{"t":37.25,"s69":88},{"t":37.75,"s69":104},
      {"t":38.25,"s69":92},{"t":38.75,"s69":110},{"t":39.25,"s69":104},{"t":39.75,"s69":124}
    ],
    "panelC": [
      {"t":10,"c54":240,"c50":236,"c47":232,"c40":228,"c37":226},
      {"t":11,"c54":218,"c50":226,"c47":214,"c40":206,"c37":210},
      {"t":12,"c54":226,"c50":206,"c47":202,"c40":194,"c37":190},
      {"t":13,"c54":202,"c50":204,"c47":184,"c40":186,"c37":176},
      {"t":14,"c54":210,"c50":188,"c47":178,"c40":162,"c37":172},
      {"t":15,"c54":186,"c50":192,"c47":164,"c40":170,"c37":156},
      {"t":16,"c54":194,"c50":172,"c47":162,"c40":148,"c37":152},
      {"t":17,"c54":170,"c50":176,"c47":146,"c40":152,"c37":142},
      {"t":18,"c54":178,"c50":158,"c47":150,"c40":134,"c37":140},
      {"t":19,"c54":158,"c50":162,"c47":130,"c40":142,"c37":130},
      {"t":20,"c54":170,"c50":148,"c47":140,"c40":128,"c37":134},
      {"t":21,"c54":150,"c50":156,"c47":120,"c40":136,"c37":124},
      {"t":22,"c54":168,"c50":146,"c47":96,"c40":122,"c37":130},
      {"t":23,"c54":160,"c50":160,"c47":134,"c40":132,"c37":126},
      {"t":24,"c54":178,"c50":150,"c47":126,"c40":124,"c37":136},
      {"t":25,"c54":156,"c50":156,"c47":134,"c40":130,"c37":124},
      {"t":26,"c54":164,"c50":140,"c47":120,"c40":114,"c37":126},
      {"t":27,"c54":146,"c50":146,"c47":126,"c40":122,"c37":116},
      {"t":28,"c54":156,"c50":132,"c47":114,"c40":108,"c37":122},
      {"t":29,"c54":140,"c50":140,"c47":120,"c40":118,"c37":112},
      {"t":30,"c54":148,"c50":124,"c47":110,"c40":104,"c37":116},
      {"t":31,"c54":130,"c50":128,"c47":112,"c40":110,"c37":104},
      {"t":32,"c54":138,"c50":112,"c47":100,"c40":94,"c37":106},
      {"t":33,"c54":120,"c50":116,"c47":104,"c40":100,"c37":96},
      {"t":34,"c54":126,"c50":100,"c47":92,"c40":90,"c37":98},
      {"t":35,"c54":110,"c50":104,"c47":94,"c40":88,"c37":88},
      {"t":36,"c54":116,"c50":94,"c47":86,"c40":82,"c37":90},
      {"t":37,"c54":104,"c50":98,"c47":80,"c40":86,"c37":84},
      {"t":38,"c54":114,"c50":96,"c47":92,"c40":84,"c37":92},
      {"t":39,"c54":110,"c50":104,"c47":94,"c40":94,"c37":90},
      {"t":40,"c54":124,"c50":108,"c47":104,"c40":100,"c37":106},
      {"t":41,"c54":142,"c50":134,"c47":128,"c40":126,"c37":128},
      {"t":42,"c54":199,"c50":190,"c47":186,"c40":180,"c37":184},
      {"t":42.7,"c54":368,"c50":360,"c47":355,"c40":345,"c37":350},
      {"t":43,"c54":1040,"c50":1020,"c47":1010,"c40":980,"c37":1000},
      {"t":43.3,"c54":2790,"c50":2700,"c47":2650,"c40":2550,"c37":2600},
      {"t":43.6,"c54":1040,"c50":1020,"c47":1010,"c40":990,"c37":1000},
      {"t":44,"c54":417,"c50":440,"c47":410,"c40":395,"c37":400},
      {"t":44.5,"c54":454,"c50":630,"c47":470,"c40":430,"c37":440},
      {"t":45,"c54":417,"c50":480,"c47":420,"c40":410,"c37":400},
      {"t":45.5,"c54":400,"c50":430,"c47":410,"c40":420,"c37":390},
      {"t":46,"c54":368,"c50":380,"c47":380,"c40":370,"c37":360},
      {"t":46.5,"c54":350,"c50":350,"c47":370,"c40":355,"c37":345},
      {"t":47,"c54":324,"c50":330,"c47":350,"c40":340,"c37":330},
      {"t":48,"c54":288,"c50":296,"c47":310,"c40":300,"c37":290},
      {"t":49,"c54":235,"c50":240,"c47":250,"c40":242,"c37":238},
      {"t":49.7,"c54":190,"c50":190,"c47":196,"c40":192,"c37":190},
      {"t":50.1,"c54":454,"c50":450,"c47":450,"c40":445,"c37":440},
      {"t":50.5,"c54":914,"c50":900,"c47":890,"c40":870,"c37":880},
      {"t":50.9,"c54":454,"c50":450,"c47":445,"c40":440,"c37":440},
      {"t":51.5,"c54":206,"c50":205,"c47":204,"c40":202,"c37":200},
      {"t":52,"c54":160,"c50":170,"c47":156,"c40":162,"c37":158},
      {"t":52.5,"c54":142,"c50":132,"c47":140,"c40":146,"c37":138},
      {"t":53,"c54":120,"c50":130,"c47":126,"c40":118,"c37":124},
      {"t":54,"c54":116,"c50":104,"c47":110,"c40":116,"c37":108},
      {"t":55,"c54":104,"c50":112,"c47":100,"c40":110,"c37":114},
      {"t":56,"c54":112,"c50":100,"c47":108,"c40":102,"c37":106},
      {"t":57,"c54":100,"c50":110,"c47":106,"c40":112,"c37":102},
      {"t":58,"c54":92,"c50":84,"c47":90,"c40":86,"c37":94},
      {"t":59,"c54":72,"c50":78,"c47":74,"c40":76,"c37":70},
      {"t":60,"c54":76,"c50":64,"c47":72,"c40":68,"c37":74},
      {"t":61,"c54":66,"c50":70,"c47":62,"c40":68,"c37":64},
      {"t":62,"c54":70,"c50":58,"c47":68,"c40":62,"c37":66},
      {"t":63,"c54":60,"c50":64,"c47":62,"c40":58,"c37":64},
      {"t":64,"c54":64,"c50":54,"c47":58,"c40":60,"c37":58},
      {"t":65,"c54":58,"c50":60,"c47":56,"c40":54,"c37":60},
      {"t":66,"c54":62,"c50":50,"c47":60,"c40":58,"c37":56},
      {"t":67,"c54":58,"c50":60,"c47":56,"c40":52,"c37":62},
      {"t":68,"c54":66,"c50":58,"c47":62,"c40":64,"c37":60},
      {"t":69,"c54":62,"c50":66,"c47":60,"c40":62,"c37":68},
      {"t":70,"c54":70,"c50":62,"c47":68,"c40":64,"c37":66},
      {"t":71,"c54":68,"c50":72,"c47":66,"c40":72,"c37":70},
      {"t":72,"c54":78,"c50":72,"c47":76,"c40":74,"c37":80},
      {"t":73,"c54":95,"c50":94,"c47":94,"c40":94,"c37":96},
      {"t":73.6,"c54":199,"c50":198,"c47":198,"c40":198,"c37":200},
      {"t":74.2,"c54":685,"c50":680,"c47":670,"c40":650,"c37":660},
      {"t":74.8,"c54":199,"c50":200,"c47":198,"c40":198,"c37":200},
      {"t":75.5,"c54":120,"c50":150,"c47":124,"c40":120,"c37":122},
      {"t":76,"c54":110,"c50":168,"c47":112,"c40":108,"c37":110},
      {"t":76.5,"c54":102,"c50":140,"c47":106,"c40":104,"c37":104},
      {"t":77,"c54":96,"c50":120,"c47":100,"c40":98,"c37":102},
      {"t":78,"c54":100,"c50":104,"c47":96,"c40":100,"c37":94},
      {"t":79,"c54":88,"c50":96,"c47":98,"c40":92,"c37":98},
      {"t":80,"c54":94,"c50":92,"c47":92,"c40":96,"c37":90},
      {"t":81,"c54":88,"c50":100,"c47":98,"c40":92,"c37":98},
      {"t":82,"c54":98,"c50":94,"c47":96,"c40":102,"c37":94},
      {"t":83,"c54":92,"c50":104,"c47":104,"c40":96,"c37":102},
      {"t":84,"c54":100,"c50":96,"c47":100,"c40":104,"c37":98},
      {"t":85,"c54":96,"c50":108,"c47":110,"c40":100,"c37":106},
      {"t":86,"c54":104,"c50":102,"c47":106,"c40":108,"c37":104},
      {"t":87,"c54":102,"c50":114,"c47":112,"c40":106,"c37":112},
      {"t":88,"c54":114,"c50":112,"c47":118,"c40":116,"c37":114},
      {"t":89,"c54":131,"c50":136,"c47":138,"c40":134,"c37":136},
      {"t":89.5,"c54":300,"c50":300,"c47":300,"c40":300,"c37":300},
      {"t":89.9,"c54":1100,"c50":1100,"c47":1100,"c40":1100,"c37":1100},
      {"t":90.4,"c54":300,"c50":300,"c47":300,"c40":300,"c37":300},
      {"t":91,"c54":131,"c50":130,"c47":136,"c40":132,"c37":134},
      {"t":92,"c54":108,"c50":104,"c47":118,"c40":112,"c37":116},
      {"t":93,"c54":104,"c50":96,"c47":104,"c40":102,"c37":106},
      {"t":94,"c54":96,"c50":94,"c47":100,"c40":98,"c37":102},
      {"t":94.8,"c54":131,"c50":128,"c47":132,"c40":130,"c37":132},
      {"t":95.2,"c54":161,"c50":160,"c47":162,"c40":160,"c37":162},
      {"t":95.7,"c54":102,"c50":100,"c47":104,"c40":102,"c37":104},
      {"t":96.5,"c54":84,"c50":88,"c47":90,"c40":88,"c37":92},
      {"t":97.5,"c54":76,"c50":70,"c47":74,"c40":74,"c37":78},
      {"t":98.5,"c54":66,"c50":68,"c47":70,"c40":68,"c37":72},
      {"t":99,"c54":57,"c50":56,"c47":60,"c40":58,"c37":60},
      {"t":10.5,"c54":222,"c50":220,"c47":218,"c40":214,"c37":214},
      {"t":11.5,"c54":230,"c50":210,"c47":200,"c40":198,"c37":196},
      {"t":12.5,"c54":206,"c50":212,"c47":192,"c40":180,"c37":186},
      {"t":13.5,"c54":214,"c50":190,"c47":176,"c40":176,"c37":164},
      {"t":14.5,"c54":192,"c50":196,"c47":172,"c40":160,"c37":166},
      {"t":15.5,"c54":198,"c50":176,"c47":154,"c40":156,"c37":150},
      {"t":16.5,"c54":178,"c50":180,"c47":158,"c40":144,"c37":146},
      {"t":17.5,"c54":186,"c50":160,"c47":140,"c40":142,"c37":136},
      {"t":18.5,"c54":164,"c50":166,"c47":144,"c40":128,"c37":138},
      {"t":19.5,"c54":176,"c50":150,"c47":136,"c40":134,"c37":128},
      {"t":20.5,"c54":154,"c50":158,"c47":128,"c40":130,"c37":122},
      {"t":21.5,"c54":172,"c50":144,"c47":130,"c40":118,"c37":128},
      {"t":22.5,"c54":156,"c50":158,"c47":118,"c40":130,"c37":122},
      {"t":23.5,"c54":176,"c50":146,"c47":132,"c40":120,"c37":134},
      {"t":24.5,"c54":160,"c50":160,"c47":122,"c40":128,"c37":122},
      {"t":25.5,"c54":170,"c50":144,"c47":128,"c40":118,"c37":124},
      {"t":26.5,"c54":150,"c50":150,"c47":118,"c40":120,"c37":116},
      {"t":27.5,"c54":160,"c50":134,"c47":124,"c40":112,"c37":120},
      {"t":28.5,"c54":142,"c50":142,"c47":112,"c40":114,"c37":108},
      {"t":29.5,"c54":150,"c50":126,"c47":118,"c40":106,"c37":114},
      {"t":30.5,"c54":134,"c50":132,"c47":106,"c40":108,"c37":102},
      {"t":31.5,"c54":142,"c50":116,"c47":108,"c40":98,"c37":108},
      {"t":32.5,"c54":124,"c50":120,"c47":96,"c40":98,"c37":94},
      {"t":33.5,"c54":130,"c50":104,"c47":100,"c40":92,"c37":100},
      {"t":34.5,"c54":112,"c50":108,"c47":88,"c40":90,"c37":86},
      {"t":35.5,"c54":120,"c50":96,"c47":92,"c40":82,"c37":92},
      {"t":36.5,"c54":106,"c50":100,"c47":82,"c40":86,"c37":82},
      {"t":37.5,"c54":118,"c50":92,"c47":90,"c40":80,"c37":90},
      {"t":38.5,"c54":108,"c50":102,"c47":86,"c40":88,"c37":84},
      {"t":39.5,"c54":122,"c50":100,"c47":100,"c40":92,"c37":96},
      {"t":40.5,"c54":128,"c50":122,"c47":112,"c40":110,"c37":114},
      {"t":41.5,"c54":168,"c50":160,"c47":154,"c40":150,"c37":156},
      {"t":53.5,"c54":124,"c50":112,"c47":118,"c40":124,"c37":116},
      {"t":54.5,"c54":104,"c50":112,"c47":104,"c40":100,"c37":110},
      {"t":55.5,"c54":114,"c50":102,"c47":110,"c40":104,"c37":100},
      {"t":56.5,"c54":102,"c50":112,"c47":100,"c40":108,"c37":112},
      {"t":57.5,"c54":104,"c50":96,"c47":104,"c40":98,"c37":96},
      {"t":58.5,"c54":80,"c50":86,"c47":80,"c40":82,"c37":78},
      {"t":59.5,"c54":76,"c50":68,"c47":76,"c40":70,"c37":76},
      {"t":60.5,"c54":66,"c50":72,"c47":64,"c40":72,"c37":66},
      {"t":61.5,"c54":70,"c50":60,"c47":68,"c40":62,"c37":70},
      {"t":62.5,"c54":60,"c50":66,"c47":58,"c40":64,"c37":60},
      {"t":63.5,"c54":66,"c50":56,"c47":64,"c40":56,"c37":62},
      {"t":64.5,"c54":56,"c50":60,"c47":56,"c40":62,"c37":56},
      {"t":65.5,"c54":64,"c50":52,"c47":62,"c40":56,"c37":60},
      {"t":66.5,"c54":56,"c50":58,"c47":54,"c40":60,"c37":58},
      {"t":67.5,"c54":64,"c50":54,"c47":62,"c40":56,"c37":64},
      {"t":68.5,"c54":60,"c50":64,"c47":58,"c40":66,"c37":60},
      {"t":69.5,"c54":68,"c50":60,"c47":66,"c40":60,"c37":66},
      {"t":70.5,"c54":64,"c50":70,"c47":62,"c40":70,"c37":68},
      {"t":71.5,"c54":74,"c50":68,"c47":72,"c40":66,"c37":74},
      {"t":72.5,"c54":80,"c50":80,"c47":78,"c40":82,"c37":80},
      {"t":77.5,"c54":104,"c50":110,"c47":98,"c40":104,"c37":100},
      {"t":78.5,"c54":92,"c50":100,"c47":102,"c40":94,"c37":100},
      {"t":79.5,"c54":98,"c50":90,"c47":92,"c40":100,"c37":94},
      {"t":80.5,"c54":90,"c50":98,"c47":96,"c40":90,"c37":100},
      {"t":81.5,"c54":96,"c50":92,"c47":94,"c40":98,"c37":92},
      {"t":82.5,"c54":94,"c50":102,"c47":100,"c40":96,"c37":104},
      {"t":83.5,"c54":100,"c50":96,"c47":98,"c40":102,"c37":96},
      {"t":84.5,"c54":96,"c50":104,"c47":106,"c40":98,"c37":106},
      {"t":85.5,"c54":104,"c50":100,"c47":104,"c40":108,"c37":102},
      {"t":86.5,"c54":100,"c50":110,"c47":110,"c40":104,"c37":110},
      {"t":87.5,"c54":110,"c50":106,"c47":114,"c40":114,"c37":110},
      {"t":88.5,"c54":118,"c50":120,"c47":124,"c40":120,"c37":122},
      {"t":91.5,"c54":116,"c50":120,"c47":124,"c40":118,"c37":122},
      {"t":92.5,"c54":112,"c50":100,"c47":110,"c40":106,"c37":110},
      {"t":93.5,"c54":98,"c50":102,"c47":100,"c40":100,"c37":104},
      {"t":96,"c54":92,"c50":92,"c47":94,"c40":94,"c37":96},
      {"t":97,"c54":78,"c50":80,"c47":82,"c40":80,"c37":84},
      {"t":98,"c54":72,"c50":66,"c47":72,"c40":70,"c37":74},
      {"t":10.25,"c54":264},{"t":10.75,"c54":195},{"t":11.25,"c54":244},{"t":11.75,"c54":179},
      {"t":12.25,"c54":253},{"t":12.75,"c54":188},{"t":13.25,"c54":217},{"t":13.75,"c54":169},
      {"t":14.25,"c54":225},{"t":14.75,"c54":166},{"t":15.25,"c54":208},{"t":15.75,"c54":152},
      {"t":16.25,"c54":214},{"t":16.75,"c54":159},{"t":17.25,"c54":183},{"t":17.75,"c54":143},
      {"t":18.25,"c54":190},{"t":18.75,"c54":142},{"t":19.25,"c54":179},{"t":19.75,"c54":133},
      {"t":20.25,"c54":190},{"t":20.75,"c54":144},{"t":21.25,"c54":170},{"t":21.75,"c54":134},
      {"t":22.25,"c54":185},{"t":22.75,"c54":140},{"t":23.25,"c54":182},{"t":23.75,"c54":137},
      {"t":24.25,"c54":196},{"t":24.75,"c54":146},{"t":25.25,"c54":167},{"t":25.75,"c54":130},
      {"t":26.25,"c54":174},{"t":26.75,"c54":131},{"t":27.25,"c54":165},{"t":27.75,"c54":122},
      {"t":28.25,"c54":175},{"t":28.75,"c54":131},{"t":29.25,"c54":153},{"t":29.75,"c54":119},
      {"t":30.25,"c54":160},{"t":30.75,"c54":118},{"t":31.25,"c54":149},{"t":31.75,"c54":108},
      {"t":32.25,"c54":153},{"t":32.75,"c54":114},{"t":33.25,"c54":131},{"t":33.75,"c54":102},
      {"t":34.25,"c54":136},{"t":34.75,"c54":100},{"t":35.25,"c54":125},{"t":35.75,"c54":92},
      {"t":36.25,"c54":131},{"t":36.75,"c54":99},{"t":37.25,"c54":117},{"t":37.75,"c54":92},
      {"t":38.25,"c54":128},{"t":38.75,"c54":97},{"t":39.25,"c54":127},{"t":39.75,"c54":97},
      {"t":40.25,"c54":148},{"t":40.75,"c54":122},{"t":41.25,"c54":161},{"t":41.75,"c54":147},
      {"t":52.25,"c54":174},{"t":52.75,"c54":108},{"t":53.25,"c54":135},{"t":53.75,"c54":90},
      {"t":54.25,"c54":137},{"t":54.75,"c54":95},{"t":55.25,"c54":118},{"t":55.75,"c54":86},
      {"t":56.25,"c54":124},{"t":56.75,"c54":85},{"t":57.25,"c54":114},{"t":57.75,"c54":73},
      {"t":58.25,"c54":106},{"t":58.75,"c54":69},{"t":59.25,"c54":81},{"t":59.75,"c54":59},
      {"t":60.25,"c54":84},{"t":60.75,"c54":57},{"t":61.25,"c54":77},{"t":61.75,"c54":52},
      {"t":62.25,"c54":80},{"t":62.75,"c54":57},{"t":63.25,"c54":69},{"t":63.75,"c54":50},
      {"t":64.25,"c54":72},{"t":64.75,"c54":50},{"t":65.25,"c54":68},{"t":65.75,"c54":47},
      {"t":66.25,"c54":74},{"t":66.75,"c54":53},{"t":67.25,"c54":68},{"t":67.75,"c54":51},
      {"t":68.25,"c54":75},{"t":68.75,"c54":53},{"t":69.25,"c54":73},{"t":69.75,"c54":51},
      {"t":70.25,"c54":83},{"t":70.75,"c54":61},{"t":71.25,"c54":79},{"t":71.75,"c54":60},
      {"t":72.25,"c54":90},{"t":72.75,"c54":69},
      {"t":76.25,"c54":123},{"t":76.75,"c54":80},{"t":77.25,"c54":107},{"t":77.75,"c54":73},
      {"t":78.25,"c54":113},{"t":78.75,"c54":80},{"t":79.25,"c54":99},{"t":79.75,"c54":73},
      {"t":80.25,"c54":104},{"t":80.75,"c54":73},{"t":81.25,"c54":101},{"t":81.75,"c54":71},
      {"t":82.25,"c54":114},{"t":82.75,"c54":83},{"t":83.25,"c54":104},{"t":83.75,"c54":78},
      {"t":84.25,"c54":114},{"t":84.75,"c54":79},{"t":85.25,"c54":110},{"t":85.75,"c54":77},
      {"t":86.25,"c54":124},{"t":86.75,"c54":90},{"t":87.25,"c54":116},{"t":87.75,"c54":88},
      {"t":91.75,"c54":96},{"t":92.25,"c54":125},{"t":92.75,"c54":84},{"t":93.25,"c54":112},
      {"t":93.75,"c54":75},{"t":96.25,"c54":108},{"t":96.75,"c54":72},{"t":97.25,"c54":84},
      {"t":97.75,"c54":59},{"t":98.25,"c54":81},{"t":98.75,"c54":51},
      {"t":12.75,"c47":170},{"t":14.25,"c47":150},{"t":15.75,"c47":140},{"t":17.25,"c47":126},
      {"t":18.75,"c47":122},{"t":20.25,"c47":108},{"t":21.75,"c47":98},{"t":23.25,"c47":110},
      {"t":24.75,"c47":100},{"t":26.25,"c47":94},{"t":27.75,"c47":96},{"t":29.25,"c47":88},
      {"t":30.75,"c47":86},{"t":32.25,"c47":80},{"t":33.75,"c47":86},{"t":35.25,"c47":74},
      {"t":36.75,"c47":66},{"t":38.25,"c47":80},{"t":39.75,"c47":72},
      {"t":13.25,"c40":160},{"t":14.75,"c40":150},{"t":16.25,"c40":130},{"t":17.75,"c40":126},
      {"t":19.25,"c40":116},{"t":20.75,"c40":112},{"t":22.25,"c40":106},{"t":23.75,"c40":104},
      {"t":25.25,"c40":110},{"t":26.75,"c40":98},{"t":28.25,"c40":92},{"t":29.75,"c40":96},
      {"t":31.25,"c40":88},{"t":32.75,"c40":80},{"t":34.25,"c40":78},{"t":35.75,"c40":72},
      {"t":37.25,"c40":76},{"t":38.75,"c40":78},{"t":64.25,"c40":46},{"t":67.25,"c40":44},
      {"t":16.75,"c37":128},{"t":19.75,"c37":118},{"t":24.25,"c37":112},{"t":28.75,"c37":100},
      {"t":33.25,"c37":84},{"t":36.25,"c37":78},
      {"t":18.25,"c50":176},{"t":20.75,"c50":162},{"t":23.25,"c50":170},{"t":25.75,"c50":160},
      {"t":27.25,"c50":152},{"t":29.75,"c50":146},{"t":31.25,"c50":136},{"t":33.75,"c50":124},
      {"t":35.25,"c50":112},{"t":37.75,"c50":106},{"t":60.75,"c50":52},{"t":62.25,"c50":50},
      {"t":64.75,"c50":48},{"t":66.25,"c50":44},{"t":68.75,"c50":50}
    ],
    "si059": [
      {"t":10,"counts":32},{"t":10.5,"counts":37},{"t":11,"counts":34},{"t":11.5,"counts":39},
      {"t":12,"counts":37},{"t":12.5,"counts":41},{"t":13,"counts":39},{"t":13.5,"counts":43},
      {"t":14,"counts":41},{"t":14.5,"counts":44},{"t":15,"counts":42},{"t":15.5,"counts":45},
      {"t":16,"counts":43},{"t":16.5,"counts":46},{"t":17,"counts":44},{"t":17.5,"counts":47},
      {"t":18,"counts":44},{"t":18.5,"counts":48},{"t":19,"counts":45},{"t":19.5,"counts":47},
      {"t":20,"counts":44},{"t":20.5,"counts":46},{"t":21,"counts":43},{"t":21.5,"counts":45},
      {"t":22,"counts":42},{"t":22.5,"counts":44},{"t":23,"counts":40},{"t":23.5,"counts":42},
      {"t":24,"counts":39},{"t":24.5,"counts":41},{"t":25,"counts":37.5},{"t":25.5,"counts":39},
      {"t":26,"counts":37},{"t":26.5,"counts":38.5},{"t":27,"counts":36},{"t":27.5,"counts":37.5},
      {"t":28,"counts":35},{"t":28.5,"counts":36.5},{"t":29,"counts":34},{"t":29.5,"counts":35.5},
      {"t":30,"counts":33},{"t":30.5,"counts":34.5},{"t":31,"counts":32.5},{"t":31.5,"counts":33.5},
      {"t":32,"counts":31.5},{"t":32.5,"counts":33},{"t":33,"counts":31},{"t":33.5,"counts":32},
      {"t":34,"counts":30.5},{"t":34.5,"counts":31.5},{"t":35,"counts":30},{"t":35.5,"counts":31},
      {"t":36,"counts":29.5},{"t":36.5,"counts":30.5},{"t":37,"counts":29},{"t":37.5,"counts":30},
      {"t":38,"counts":28.5},{"t":38.5,"counts":29.5},{"t":39,"counts":28},{"t":39.5,"counts":29},
      {"t":40,"counts":27.5},{"t":40.5,"counts":28.5},{"t":41,"counts":28},{"t":41.5,"counts":29},
      {"t":42,"counts":28.5},{"t":42.5,"counts":30},{"t":42.9,"counts":50},{"t":43.1,"counts":120},
      {"t":43.3,"counts":195},{"t":43.5,"counts":110},{"t":43.7,"counts":40},{"t":44,"counts":32},
      {"t":44.5,"counts":30},{"t":45,"counts":31},{"t":45.4,"counts":34},{"t":45.7,"counts":37},
      {"t":46,"counts":33},{"t":46.5,"counts":29},{"t":47,"counts":30.5},{"t":47.5,"counts":28.5},
      {"t":48,"counts":29.5},{"t":48.5,"counts":27},{"t":49,"counts":28},{"t":49.5,"counts":26.5},
      {"t":50,"counts":28},{"t":50.3,"counts":34},{"t":50.5,"counts":39},{"t":50.7,"counts":33},
      {"t":51,"counts":27},{"t":51.5,"counts":25.5},{"t":52,"counts":25},{"t":52.5,"counts":24},
      {"t":53,"counts":24.5},{"t":53.5,"counts":23.5},{"t":54,"counts":24},{"t":54.5,"counts":23},
      {"t":55,"counts":23.5},{"t":55.5,"counts":22.5},{"t":56,"counts":23},{"t":56.5,"counts":22},
      {"t":57,"counts":22.5},{"t":57.5,"counts":21.5},{"t":58,"counts":22},{"t":58.5,"counts":21},
      {"t":59,"counts":21.5},{"t":59.5,"counts":20.5},{"t":60,"counts":21},{"t":60.5,"counts":19.5}
    ],
    "cu": [
      {"t":43.4,"counts":6013},{"t":50.5,"counts":2563},{"t":74.4,"counts":1055},
      {"t":90.0,"counts":964},{"t":95.4,"counts":263}
    ],
    "cosi2": [
      {"t":28.6,"counts":420},{"t":33.3,"counts":249},{"t":47.85,"counts":446},{"t":56.8,"counts":296},
      {"t":59.6,"counts":247},{"t":70.2,"counts":271},{"t":77.5,"counts":261},{"t":80.1,"counts":248}
    ],
    "cosi": [
      {"t":28.4,"counts":395},{"t":35.0,"counts":360},{"t":40.65,"counts":276},{"t":45.85,"counts":1183},
      {"t":50.4,"counts":670},{"t":58.8,"counts":202},{"t":63.05,"counts":236},{"t":66.8,"counts":217},
      {"t":70.57,"counts":278},{"t":74.14,"counts":217},{"t":77.7,"counts":236},{"t":81.2,"counts":379}
    ]
  },
  "vconcat": [
    {
      "hconcat": [
        {
          "width": 289, "height": 427,
          "layer": [
            {
              "data": {"name": "panelA"},
              "transform": [{"fold": ["s96", "s90", "s85", "s78"], "as": ["series", "counts"]}],
              "mark": {"type": "line", "strokeWidth": 1, "clip": true, "invalid": "filter"},
              "encoding": {
                "x": {"field": "t", "type": "quantitative", "scale": {"domain": [9.8, 99.2], "nice": false, "zero": false},
                  "axis": {"orient": "bottom", "values": [20, 30, 40, 50, 60, 70, 80, 90],
                    "labelExpr": "datum.value % 20 === 0 ? datum.label : ''",
                    "tickSize": {"condition": {"test": "datum.value % 20 === 0", "value": -8}, "value": -4},
                    "labelPadding": 18, "title": "2 theta (°)", "titleX": 156, "titleY": 61,
                    "titleBaseline": "alphabetic", "titleAlign": "center"}},
                "y": {"field": "counts", "type": "quantitative", "scale": {"type": "log", "domain": [29.6, 8980], "nice": false},
                  "axis": {"orient": "left", "labels": false,
                    "values": [30, 40, 50, 60, 70, 80, 90, 100, 200, 300, 400, 500, 600, 700, 800, 900, 1000, 2000, 3000, 4000, 5000, 6000, 7000, 8000],
                    "tickSize": {"condition": {"test": "datum.value === 100 || datum.value === 1000", "value": -8}, "value": -4},
                    "title": "X-ray diffraction counts", "titleX": -38, "titleY": 228, "titleBaseline": "middle", "titleAlign": "center", "titleAngle": -90}},
                "color": {"field": "series", "type": "nominal",
                  "scale": {"domain": ["s96", "s90", "s85", "s78", "cu"], "range": ["#000000", "#ff0000", "#00ee00", "#0000ff", "#000000"]},
                  "legend": {
                    "labelExpr": "datum.value === 's96' ? 'Si=0.96' : datum.value === 's90' ? '0.90' : datum.value === 's85' ? '0.85' : datum.value === 's78' ? '0.78' : 'Cu'",
                    "encode": {"symbols": {"update": {
                      "shape": {"signal": "datum.value === 'cu' ? 'triangle-down' : 'stroke'"},
                      "size": {"signal": "datum.value === 'cu' ? 45 : 3025"},
                      "fill": {"signal": "datum.value === 'cu' ? 'white' : 'transparent'"},
                      "strokeWidth": {"signal": "datum.value === 'cu' ? 1.3 : 2"}}},
                      "legend": {"update": {"strokeWidth": {"value": 1.5}}}}
                  }}
              }
            },
            {
              "data": {"name": "cu"},
              "mark": {"type": "point", "shape": "triangle-down", "filled": false, "stroke": "black", "strokeWidth": 1.3, "size": 45, "opacity": 1},
              "encoding": {
                "x": {"field": "t", "type": "quantitative", "scale": {"domain": [9.8, 99.2], "nice": false, "zero": false},
                  "axis": {"orient": "top", "labels": false, "title": null, "values": [20, 30, 40, 50, 60, 70, 80, 90],
                    "tickSize": {"condition": {"test": "datum.value % 20 === 0", "value": -8}, "value": -4}}},
                "y": {"field": "counts", "type": "quantitative", "scale": {"type": "log", "domain": [29.6, 8980], "nice": false},
                  "axis": {"orient": "right", "labels": false, "title": null,
                    "values": [30, 40, 50, 60, 70, 80, 90, 100, 200, 300, 400, 500, 600, 700, 800, 900, 1000, 2000, 3000, 4000, 5000, 6000, 7000, 8000],
                    "tickSize": {"condition": {"test": "datum.value === 100 || datum.value === 1000", "value": -8}, "value": -4}}}
              }
            },
            {
              "data": {"values": [
                {"t": 17.65, "top": 479, "tip": 300, "col": "#ff0000"},
                {"t": 28.5, "top": 593, "tip": 366, "col": "#000000"}
              ]},
              "layer": [
                {
                  "mark": {"type": "rule", "strokeWidth": 1.5},
                  "encoding": {
                    "x": {"field": "t", "type": "quantitative", "axis": null},
                    "y": {"field": "top", "type": "quantitative", "axis": null},
                    "y2": {"field": "tip"},
                    "color": {"field": "col", "type": "nominal", "scale": null}
                  }
                },
                {
                  "mark": {"type": "point", "shape": "triangle-down", "filled": true, "size": 45, "opacity": 1},
                  "encoding": {
                    "x": {"field": "t", "type": "quantitative", "axis": null},
                    "y": {"field": "tip", "type": "quantitative", "axis": null},
                    "color": {"field": "col", "type": "nominal", "scale": null}
                  }
                }
              ]
            },
            {
              "data": {"values": [{"t": 13.2, "counts": 6095, "label": "a)"}]},
              "mark": {"type": "text", "align": "left", "baseline": "middle", "fontSize": 26, "color": "black"},
              "encoding": {
                "x": {"field": "t", "type": "quantitative", "axis": null},
                "y": {"field": "counts", "type": "quantitative", "axis": null},
                "text": {"field": "label"}
              }
            }
          ],
          "resolve": {"axis": {"x": "independent", "y": "independent"}}
        },
        {
          "width": 287, "height": 427,
          "layer": [
            {
              "data": {"name": "panelB"},
              "transform": [{"fold": ["s75", "s69", "s65", "s61"], "as": ["series", "counts"]}],
              "mark": {"type": "line", "strokeWidth": 1, "clip": true, "invalid": "filter"},
              "encoding": {
                "x": {"field": "t", "type": "quantitative", "scale": {"domain": [9.8, 99.2], "nice": false, "zero": false},
                  "axis": {"orient": "bottom", "values": [20, 30, 40, 50, 60, 70, 80, 90],
                    "labelExpr": "datum.value % 20 === 0 ? datum.label : ''",
                    "tickSize": {"condition": {"test": "datum.value % 20 === 0", "value": -8}, "value": -4},
                    "labelPadding": 18, "title": "2 theta (°)", "titleX": 151, "titleY": 61,
                    "titleBaseline": "alphabetic", "titleAlign": "center"}},
                "y": {"field": "counts", "type": "quantitative", "scale": {"type": "log", "domain": [29.6, 2018], "nice": false},
                  "axis": {"orient": "left", "labels": false, "title": null,
                    "values": [30, 40, 50, 60, 70, 80, 90, 100, 200, 300, 400, 500, 600, 700, 800, 900, 1000, 2000],
                    "tickSize": {"condition": {"test": "datum.value === 100 || datum.value === 1000", "value": -8}, "value": -4}}},
                "color": {"field": "series", "type": "nominal",
                  "scale": {"domain": ["s75", "s69", "s65", "s61", "cosi2"], "range": ["#000000", "#ff0000", "#00ee00", "#0000ff", "#000000"]},
                  "legend": {
                    "labelExpr": "datum.value === 's75' ? 'Si=0.75' : datum.value === 's69' ? '0.69' : datum.value === 's65' ? '0.65' : datum.value === 's61' ? '0.61' : 'CoSi₂'",
                    "encode": {"symbols": {"update": {
                      "shape": {"signal": "datum.value === 'cosi2' ? 'triangle-down' : 'stroke'"},
                      "size": {"signal": "datum.value === 'cosi2' ? 40 : 3025"},
                      "fill": {"signal": "datum.value === 'cosi2' ? 'black' : 'transparent'"},
                      "strokeWidth": {"signal": "datum.value === 'cosi2' ? 1 : 2"}}},
                      "legend": {"update": {"strokeWidth": {"value": 1.5}}}}
                  }}
              }
            },
            {
              "data": {"name": "cosi2"},
              "mark": {"type": "point", "shape": "triangle-down", "filled": true, "color": "black", "size": 40, "opacity": 1},
              "encoding": {
                "x": {"field": "t", "type": "quantitative", "scale": {"domain": [9.8, 99.2], "nice": false, "zero": false},
                  "axis": {"orient": "top", "labels": false, "title": null, "values": [20, 30, 40, 50, 60, 70, 80, 90],
                    "tickSize": {"condition": {"test": "datum.value % 20 === 0", "value": -8}, "value": -4}}},
                "y": {"field": "counts", "type": "quantitative", "scale": {"type": "log", "domain": [29.6, 2018], "nice": false},
                  "axis": {"orient": "right", "labels": false, "title": null,
                    "values": [30, 40, 50, 60, 70, 80, 90, 100, 200, 300, 400, 500, 600, 700, 800, 900, 1000, 2000],
                    "tickSize": {"condition": {"test": "datum.value === 100 || datum.value === 1000", "value": -8}, "value": -4}}}
              }
            },
            {
              "data": {"values": [{"t": 12.6, "counts": 1607, "label": "b)"}]},
              "mark": {"type": "text", "align": "left", "baseline": "middle", "fontSize": 26, "color": "black"},
              "encoding": {
                "x": {"field": "t", "type": "quantitative", "axis": null},
                "y": {"field": "counts", "type": "quantitative", "axis": null},
                "text": {"field": "label"}
              }
            }
          ],
          "resolve": {"axis": {"x": "independent", "y": "independent"}}
        }
      ],
      "spacing": 33,
      "resolve": {"scale": {"color": "independent"}, "legend": {"color": "independent"}}
    },
    {
      "width": 608, "height": 443,
      "layer": [
        {
          "data": {"name": "panelC"},
          "transform": [{"fold": ["c37", "c40", "c47", "c50", "c54"], "as": ["series", "counts"]}],
          "mark": {"type": "line", "strokeWidth": 1.1, "clip": true, "invalid": "filter"},
          "encoding": {
            "x": {"field": "t", "type": "quantitative", "scale": {"domain": [9.8, 99.2], "nice": false, "zero": false},
              "axis": {"orient": "bottom", "values": [20, 30, 40, 50, 60, 70, 80, 90],
                "labelExpr": "datum.value % 20 === 0 ? datum.label : ''",
                "tickSize": {"condition": {"test": "datum.value % 20 === 0", "value": -8}, "value": -4},
                "labelPadding": 20, "title": "2 theta (°)", "titleX": 279, "titleY": 61,
                "titleBaseline": "alphabetic", "titleAlign": "center"}},
            "y": {"field": "counts", "type": "quantitative", "scale": {"type": "log", "domain": [19.6, 3981], "nice": false},
              "axis": {"orient": "left", "labels": false,
                "values": [20, 30, 40, 50, 60, 70, 80, 90, 100, 200, 300, 400, 500, 600, 700, 800, 900, 1000, 2000, 3000],
                "tickSize": {"condition": {"test": "datum.value === 100 || datum.value === 1000", "value": -8}, "value": -4},
                "title": "X-ray diffraction counts", "titleX": -38, "titleY": 229, "titleBaseline": "middle", "titleAlign": "center", "titleAngle": -90}},
            "color": {"field": "series", "type": "nominal",
              "scale": {"domain": ["c54", "c50", "c47", "c40", "c37", "cosi"], "range": ["#0000ff", "#ff00ff", "#00ee00", "#ff0000", "#00ffff", "#000000"]},
              "legend": {
                "labelExpr": "datum.value === 'c54' ? 'Si=0.54' : datum.value === 'c50' ? '0.50' : datum.value === 'c47' ? '0.47' : datum.value === 'c40' ? '0.40' : datum.value === 'c37' ? '0.37' : 'CoSi'",
                "encode": {"symbols": {"update": {
                  "shape": {"signal": "datum.value === 'cosi' ? 'diamond' : 'stroke'"},
                  "size": {"signal": "datum.value === 'cosi' ? 90 : 3025"},
                  "fill": {"signal": "datum.value === 'cosi' ? 'black' : 'transparent'"},
                  "strokeWidth": {"signal": "datum.value === 'cosi' ? 1 : 2"}}},
                  "legend": {"update": {"strokeWidth": {"value": 3}}}}
              }}
          }
        },
        {
          "data": {"name": "si059"},
          "mark": {"type": "line", "strokeWidth": 1.3, "color": "black", "clip": true},
          "encoding": {
            "x": {"field": "t", "type": "quantitative", "axis": null},
            "y": {"field": "counts", "type": "quantitative", "axis": null}
          }
        },
        {
          "data": {"values": [{"t": 43.35}, {"t": 45.79}, {"t": 50.61}]},
          "mark": {"type": "rule", "strokeDash": [5, 3], "strokeWidth": 1.2, "color": "black"},
          "encoding": {
            "x": {"field": "t", "type": "quantitative", "axis": null}
          }
        },
        {
          "data": {"name": "cosi"},
          "mark": {"type": "point", "shape": "diamond", "filled": true, "color": "black", "size": 90, "opacity": 1},
          "encoding": {
            "x": {"field": "t", "type": "quantitative", "scale": {"domain": [9.8, 99.2], "nice": false, "zero": false},
              "axis": {"orient": "top", "labels": false, "title": null, "values": [20, 30, 40, 50, 60, 70, 80, 90],
                "tickSize": {"condition": {"test": "datum.value % 20 === 0", "value": -8}, "value": -4}}},
            "y": {"field": "counts", "type": "quantitative", "scale": {"type": "log", "domain": [19.6, 3981], "nice": false},
              "axis": {"orient": "right", "labels": false, "title": null,
                "values": [20, 30, 40, 50, 60, 70, 80, 90, 100, 200, 300, 400, 500, 600, 700, 800, 900, 1000, 2000, 3000],
                "tickSize": {"condition": {"test": "datum.value === 100 || datum.value === 1000", "value": -8}, "value": -4}}}
          }
        },
        {
          "data": {"values": [
            {"t": 12.15, "counts": 2546, "label": "c)"},
            {"t": 61.6, "counts": 26.1, "label": "Si=0.59 *"}
          ]},
          "mark": {"type": "text", "align": "left", "baseline": "middle", "fontSize": 26, "color": "black"},
          "encoding": {
            "x": {"field": "t", "type": "quantitative", "axis": null},
            "y": {"field": "counts", "type": "quantitative", "axis": null},
            "text": {"field": "label"}
          }
        }
      ],
      "resolve": {"axis": {"x": "independent", "y": "independent"}}
    }
  ],
  "spacing": 27,
  "resolve": {"scale": {"color": "independent"}, "legend": {"color": "independent"}}
}
